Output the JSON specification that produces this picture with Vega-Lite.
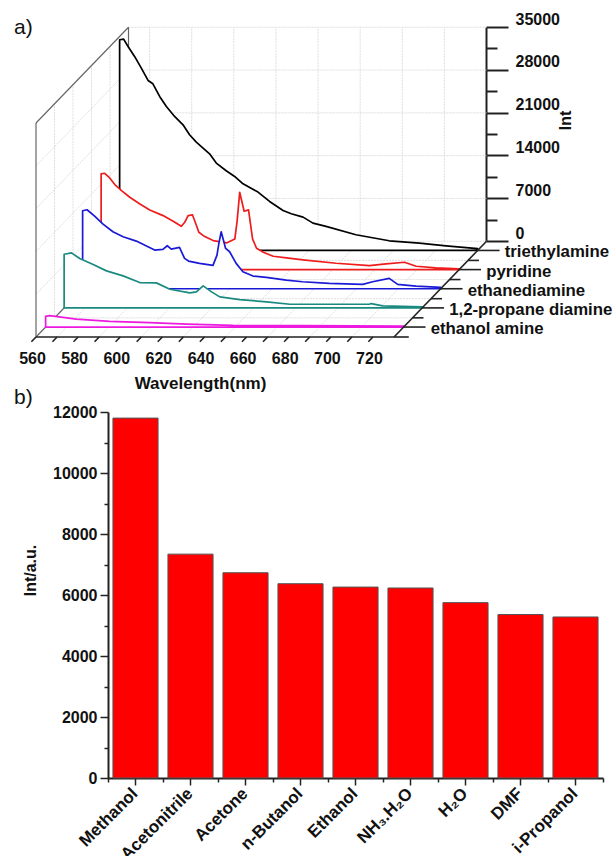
{"$schema":"https://vega.github.io/schema/vega-lite/v6.json","width":613,"height":856,"padding":0,"autosize":{"type":"none"},"background":"white","config":{"view":{"stroke":null},"axis":{"grid":false,"labelFont":"Liberation Sans","titleFont":"Liberation Sans","labelColor":"#111","titleColor":"#111"},"text":{"font":"Liberation Sans"}},
"datasets":{
"spectra":[
{"series":"triethylamine","w":560,"i":34457},{"series":"triethylamine","w":561.9,"i":34565},{"series":"triethylamine","w":564,"i":33366},{"series":"triethylamine","w":567.1,"i":31730},{"series":"triethylamine","w":570.3,"i":29822},{"series":"triethylamine","w":573.5,"i":27805},{"series":"triethylamine","w":575.8,"i":27260},{"series":"triethylamine","w":579,"i":25188},{"series":"triethylamine","w":582.2,"i":23553},{"series":"triethylamine","w":586.1,"i":21917},{"series":"triethylamine","w":590.1,"i":20554},{"series":"triethylamine","w":593.2,"i":18918},{"series":"triethylamine","w":596.4,"i":17719},{"series":"triethylamine","w":602.7,"i":15811},{"series":"triethylamine","w":605.9,"i":14284},{"series":"triethylamine","w":610.6,"i":13030},{"series":"triethylamine","w":614.6,"i":12103},{"series":"triethylamine","w":618.6,"i":10904},{"series":"triethylamine","w":625.7,"i":9541},{"series":"triethylamine","w":631.2,"i":8014},{"series":"triethylamine","w":637.6,"i":6542},{"series":"triethylamine","w":641.5,"i":5997},{"series":"triethylamine","w":647.1,"i":5452},{"series":"triethylamine","w":651.8,"i":4471},{"series":"triethylamine","w":658,"i":3925},{"series":"triethylamine","w":672.2,"i":2562},{"series":"triethylamine","w":688,"i":1581},{"series":"triethylamine","w":702.3,"i":1199},{"series":"triethylamine","w":715,"i":763},{"series":"triethylamine","w":730,"i":300},
{"series":"pyridine","w":560,"i":15647},{"series":"pyridine","w":561.7,"i":15756},{"series":"pyridine","w":563.8,"i":15102},{"series":"pyridine","w":566.5,"i":13903},{"series":"pyridine","w":569.7,"i":12921},{"series":"pyridine","w":573.6,"i":11831},{"series":"pyridine","w":578.4,"i":10740},{"series":"pyridine","w":583.1,"i":9759},{"series":"pyridine","w":589.4,"i":8832},{"series":"pyridine","w":594.2,"i":7905},{"series":"pyridine","w":598.1,"i":7088},{"series":"pyridine","w":599.7,"i":7742},{"series":"pyridine","w":601.3,"i":8832},{"series":"pyridine","w":603.4,"i":8941},{"series":"pyridine","w":605,"i":7469},{"series":"pyridine","w":606.4,"i":6106},{"series":"pyridine","w":609.2,"i":5397},{"series":"pyridine","w":613.2,"i":4743},{"series":"pyridine","w":619.5,"i":4362},{"series":"pyridine","w":623.5,"i":5016},{"series":"pyridine","w":624.6,"i":8014},{"series":"pyridine","w":625.8,"i":12649},{"series":"pyridine","w":627.9,"i":9541},{"series":"pyridine","w":630,"i":9759},{"series":"pyridine","w":631.9,"i":5016},{"series":"pyridine","w":633.8,"i":3489},{"series":"pyridine","w":637,"i":2835},{"series":"pyridine","w":641.7,"i":2181},{"series":"pyridine","w":648,"i":1908},{"series":"pyridine","w":655.8,"i":1581},{"series":"pyridine","w":671.6,"i":1036},{"series":"pyridine","w":687.4,"i":654},{"series":"pyridine","w":695.3,"i":927},{"series":"pyridine","w":704,"i":1199},{"series":"pyridine","w":709.6,"i":545},{"series":"pyridine","w":719,"i":273},{"series":"pyridine","w":730,"i":109},
{"series":"ethanediamine","w":560,"i":12758},{"series":"ethanediamine","w":562.1,"i":12921},{"series":"ethanediamine","w":565.7,"i":11885},{"series":"ethanediamine","w":569.7,"i":10577},{"series":"ethanediamine","w":574.4,"i":9323},{"series":"ethanediamine","w":579.2,"i":8505},{"series":"ethanediamine","w":585.5,"i":7796},{"series":"ethanediamine","w":590.3,"i":6979},{"series":"ethanediamine","w":594.2,"i":6324},{"series":"ethanediamine","w":598.1,"i":6433},{"series":"ethanediamine","w":600.2,"i":7033},{"series":"ethanediamine","w":602.1,"i":6488},{"series":"ethanediamine","w":606,"i":6760},{"series":"ethanediamine","w":608.4,"i":4961},{"series":"ethanediamine","w":610.3,"i":4525},{"series":"ethanediamine","w":615.5,"i":4144},{"series":"ethanediamine","w":621.9,"i":3816},{"series":"ethanediamine","w":623.8,"i":5506},{"series":"ethanediamine","w":624.7,"i":7415},{"series":"ethanediamine","w":625.8,"i":9323},{"series":"ethanediamine","w":627.9,"i":6597},{"series":"ethanediamine","w":629.8,"i":6052},{"series":"ethanediamine","w":632.9,"i":4144},{"series":"ethanediamine","w":636.1,"i":2781},{"series":"ethanediamine","w":640.9,"i":2072},{"series":"ethanediamine","w":647.2,"i":1854},{"series":"ethanediamine","w":656.7,"i":1418},{"series":"ethanediamine","w":664.4,"i":1145},{"series":"ethanediamine","w":677.1,"i":872},{"series":"ethanediamine","w":693,"i":709},{"series":"ethanediamine","w":697.7,"i":1145},{"series":"ethanediamine","w":705.6,"i":1690},{"series":"ethanediamine","w":709.6,"i":709},{"series":"ethanediamine","w":718.3,"i":436},{"series":"ethanediamine","w":730,"i":218},
{"series":"1,2-propane diamine","w":560,"i":8778},{"series":"1,2-propane diamine","w":563.5,"i":8996},{"series":"1,2-propane diamine","w":567.4,"i":8069},{"series":"1,2-propane diamine","w":573.8,"i":7088},{"series":"1,2-propane diamine","w":580.1,"i":6052},{"series":"1,2-propane diamine","w":588,"i":5234},{"series":"1,2-propane diamine","w":595.9,"i":4144},{"series":"1,2-propane diamine","w":603.8,"i":4089},{"series":"1,2-propane diamine","w":610.2,"i":3053},{"series":"1,2-propane diamine","w":619.7,"i":2453},{"series":"1,2-propane diamine","w":622.8,"i":2617},{"series":"1,2-propane diamine","w":626,"i":3598},{"series":"1,2-propane diamine","w":630,"i":2617},{"series":"1,2-propane diamine","w":633.9,"i":1799},{"series":"1,2-propane diamine","w":643.4,"i":1363},{"series":"1,2-propane diamine","w":656.1,"i":981},{"series":"1,2-propane diamine","w":667.2,"i":600},{"series":"1,2-propane diamine","w":689.2,"i":600},{"series":"1,2-propane diamine","w":705,"i":600},{"series":"1,2-propane diamine","w":705.8,"i":709},{"series":"1,2-propane diamine","w":711.3,"i":327},{"series":"1,2-propane diamine","w":730,"i":180},
{"series":"ethanol amine","w":560,"i":1745},{"series":"ethanol amine","w":561.9,"i":1854},{"series":"ethanol amine","w":574.6,"i":1308},{"series":"ethanol amine","w":590.4,"i":927},{"series":"ethanol amine","w":609.4,"i":709},{"series":"ethanol amine","w":626.8,"i":491},{"series":"ethanol amine","w":648.9,"i":273},{"series":"ethanol amine","w":682,"i":218},{"series":"ethanol amine","w":730,"i":150}
],
"grid":[
{"w1":570,"z1":5,"i1":0,"w2":570,"z2":5,"i2":35000},{"w1":590,"z1":5,"i1":0,"w2":590,"z2":5,"i2":35000},{"w1":610,"z1":5,"i1":0,"w2":610,"z2":5,"i2":35000},{"w1":630,"z1":5,"i1":0,"w2":630,"z2":5,"i2":35000},{"w1":650,"z1":5,"i1":0,"w2":650,"z2":5,"i2":35000},{"w1":670,"z1":5,"i1":0,"w2":670,"z2":5,"i2":35000},{"w1":690,"z1":5,"i1":0,"w2":690,"z2":5,"i2":35000},{"w1":710,"z1":5,"i1":0,"w2":710,"z2":5,"i2":35000},
{"w1":560,"z1":5,"i1":35000,"w2":730,"z2":5,"i2":35000},{"w1":560,"z1":5,"i1":28000,"w2":730,"z2":5,"i2":28000},{"w1":560,"z1":5,"i1":21000,"w2":730,"z2":5,"i2":21000},{"w1":560,"z1":5,"i1":14000,"w2":730,"z2":5,"i2":14000},{"w1":560,"z1":5,"i1":7000,"w2":730,"z2":5,"i2":7000},{"w1":560,"z1":5,"i1":0,"w2":730,"z2":5,"i2":0},
{"w1":560,"z1":0,"i1":7000,"w2":560,"z2":5,"i2":7000},{"w1":560,"z1":0,"i1":14000,"w2":560,"z2":5,"i2":14000},{"w1":560,"z1":0,"i1":21000,"w2":560,"z2":5,"i2":21000},{"w1":560,"z1":0,"i1":28000,"w2":560,"z2":5,"i2":28000},
{"w1":560,"z1":1,"i1":0,"w2":560,"z2":1,"i2":35000},{"w1":560,"z1":2,"i1":0,"w2":560,"z2":2,"i2":35000},{"w1":560,"z1":3,"i1":0,"w2":560,"z2":3,"i2":35000},{"w1":560,"z1":4,"i1":0,"w2":560,"z2":4,"i2":35000},
{"w1":570,"z1":0,"i1":0,"w2":570,"z2":5,"i2":0},{"w1":590,"z1":0,"i1":0,"w2":590,"z2":5,"i2":0},{"w1":610,"z1":0,"i1":0,"w2":610,"z2":5,"i2":0},{"w1":630,"z1":0,"i1":0,"w2":630,"z2":5,"i2":0},{"w1":650,"z1":0,"i1":0,"w2":650,"z2":5,"i2":0},{"w1":670,"z1":0,"i1":0,"w2":670,"z2":5,"i2":0},{"w1":690,"z1":0,"i1":0,"w2":690,"z2":5,"i2":0},{"w1":710,"z1":0,"i1":0,"w2":710,"z2":5,"i2":0},
{"w1":560,"z1":1,"i1":0,"w2":730,"z2":1,"i2":0},{"w1":560,"z1":2,"i1":0,"w2":730,"z2":2,"i2":0},{"w1":560,"z1":3,"i1":0,"w2":730,"z2":3,"i2":0},{"w1":560,"z1":4,"i1":0,"w2":730,"z2":4,"i2":0}
],
"walls":[
{"w1":560,"z1":0,"i1":0,"w2":560,"z2":0,"i2":35000},{"w1":560,"z1":0,"i1":35000,"w2":560,"z2":5,"i2":35000},{"w1":560,"z1":5,"i1":0,"w2":560,"z2":5,"i2":35000},{"w1":560,"z1":0,"i1":0,"w2":560,"z2":5,"i2":0}
],
"front":[
{"w1":560,"z1":0,"i1":0,"w2":730,"z2":0,"i2":0},{"w1":730,"z1":0,"i1":0,"w2":730,"z2":5,"i2":0},
{"w1":560,"z1":0,"i1":0,"w2":560,"z2":-0.25,"i2":0},{"w1":570,"z1":0,"i1":0,"w2":570,"z2":-0.25,"i2":0},{"w1":580,"z1":0,"i1":0,"w2":580,"z2":-0.25,"i2":0},{"w1":590,"z1":0,"i1":0,"w2":590,"z2":-0.25,"i2":0},{"w1":600,"z1":0,"i1":0,"w2":600,"z2":-0.25,"i2":0},{"w1":610,"z1":0,"i1":0,"w2":610,"z2":-0.25,"i2":0},{"w1":620,"z1":0,"i1":0,"w2":620,"z2":-0.25,"i2":0},{"w1":630,"z1":0,"i1":0,"w2":630,"z2":-0.25,"i2":0},{"w1":640,"z1":0,"i1":0,"w2":640,"z2":-0.25,"i2":0},{"w1":650,"z1":0,"i1":0,"w2":650,"z2":-0.25,"i2":0},{"w1":660,"z1":0,"i1":0,"w2":660,"z2":-0.25,"i2":0},{"w1":670,"z1":0,"i1":0,"w2":670,"z2":-0.25,"i2":0},{"w1":680,"z1":0,"i1":0,"w2":680,"z2":-0.25,"i2":0},{"w1":690,"z1":0,"i1":0,"w2":690,"z2":-0.25,"i2":0},{"w1":700,"z1":0,"i1":0,"w2":700,"z2":-0.25,"i2":0},{"w1":710,"z1":0,"i1":0,"w2":710,"z2":-0.25,"i2":0},{"w1":720,"z1":0,"i1":0,"w2":720,"z2":-0.25,"i2":0},
{"w1":730,"z1":0,"i1":0,"w2":737,"z2":0,"i2":0},{"w1":730,"z1":1,"i1":0,"w2":735.2,"z2":1,"i2":0},{"w1":730,"z1":2,"i1":0,"w2":735.2,"z2":2,"i2":0},{"w1":730,"z1":3,"i1":0,"w2":735.2,"z2":3,"i2":0},{"w1":730,"z1":4,"i1":0,"w2":735.2,"z2":4,"i2":0},
{"w1":730,"z1":0.52,"i1":0,"w2":740.4,"z2":0.52,"i2":0},{"w1":730,"z1":1.52,"i1":0,"w2":740.4,"z2":1.52,"i2":0},{"w1":730,"z1":2.52,"i1":0,"w2":740.4,"z2":2.52,"i2":0},{"w1":730,"z1":3.52,"i1":0,"w2":740.4,"z2":3.52,"i2":0},{"w1":730,"z1":4.52,"i1":0,"w2":740.4,"z2":4.52,"i2":0}
],
"seriesLabels":[{"label":"ethanol amine","z":0.52},{"label":"1,2-propane diamine","z":1.52},{"label":"ethanediamine","z":2.52},{"label":"pyridine","z":3.52},{"label":"triethylamine","z":4.52}],
"panels":[{"label":"a)","xp":549.6,"yp":50500},{"label":"b)","xp":549.6,"yp":-9900}],
"bars":[{"solvent":"Methanol","int":11800},{"solvent":"Acetonitrile","int":7340},{"solvent":"Acetone","int":6730},{"solvent":"n-Butanol","int":6370},{"solvent":"Ethanol","int":6260},{"solvent":"NH₃.H₂O","int":6230},{"solvent":"H₂O","int":5750},{"solvent":"DMF","int":5360},{"solvent":"i-Propanol","int":5280}]
},
"layer":[
{"encoding":{"x":{"field":"xp","type":"quantitative","scale":{"domain":[560,833.5],"range":[36,612],"zero":false,"nice":false},"axis":null},"y":{"field":"yp","type":"quantitative","scale":{"domain":[0,50703],"range":[337,27],"zero":false,"nice":false},"axis":null}},
"layer":[
{"data":{"name":"grid"},"transform":[{"calculate":"datum.w1+8.785*datum.z1","as":"xp"},{"calculate":"datum.i1+3132*datum.z1","as":"yp"},{"calculate":"datum.w2+8.785*datum.z2","as":"xp2"},{"calculate":"datum.i2+3132*datum.z2","as":"yp2"}],"mark":{"type":"rule","stroke":"#d6d6d6","strokeWidth":0.8,"strokeDash":[2,1]},"encoding":{"x2":{"field":"xp2"},"y2":{"field":"yp2"}}},
{"data":{"name":"walls"},"transform":[{"calculate":"datum.w1+8.785*datum.z1","as":"xp"},{"calculate":"datum.i1+3132*datum.z1","as":"yp"},{"calculate":"datum.w2+8.785*datum.z2","as":"xp2"},{"calculate":"datum.i2+3132*datum.z2","as":"yp2"}],"mark":{"type":"rule","stroke":"#666","strokeWidth":1.2},"encoding":{"x2":{"field":"xp2"},"y2":{"field":"yp2"}}},
{"data":{"name":"spectra"},"transform":[{"calculate":"indexof(['ethanol amine','1,2-propane diamine','ethanediamine','pyridine','triethylamine'],datum.series)+0.52","as":"z"},{"calculate":"datum.w+8.785*datum.z","as":"xp"},{"calculate":"datum.i+3132*datum.z","as":"yp"},{"calculate":"3132*datum.z","as":"base"}],"mark":{"type":"area","fill":"white","strokeWidth":1.7,"strokeJoin":"round"},"encoding":{"y2":{"field":"base"},"stroke":{"field":"series","type":"nominal","legend":null,"scale":{"domain":["triethylamine","pyridine","ethanediamine","1,2-propane diamine","ethanol amine"],"range":["#000000","#ee1c1c","#1a1ad6","#1a8a80","#ee19e0"]}}}},
{"data":{"name":"front"},"transform":[{"calculate":"datum.w1+8.785*datum.z1","as":"xp"},{"calculate":"datum.i1+3132*datum.z1","as":"yp"},{"calculate":"datum.w2+8.785*datum.z2","as":"xp2"},{"calculate":"datum.i2+3132*datum.z2","as":"yp2"}],"mark":{"type":"rule","stroke":"#222","strokeWidth":1.6},"encoding":{"x2":{"field":"xp2"},"y2":{"field":"yp2"}}},
{"data":{"name":"seriesLabels"},"transform":[{"calculate":"730+8.785*datum.z","as":"xp"},{"calculate":"3132*datum.z","as":"yp"}],"mark":{"type":"text","align":"left","baseline":"middle","xOffset":27,"yOffset":2,"fontSize":16.8,"fontWeight":"bold","fill":"#111"},"encoding":{"text":{"field":"label"}}},
{"data":{"name":"panels"},"mark":{"type":"text","align":"left","baseline":"middle","xOffset":0,"fontSize":21,"fill":"#111"},"encoding":{"text":{"field":"label"}}}
]},
{"data":{"values":[{"i":0},{"i":35000}]},"mark":{"type":"point","opacity":0},"encoding":{"y":{"field":"i","type":"quantitative","scale":{"domain":[0,35000],"range":[241,27],"nice":false},"axis":{"orient":"right","offset":-127,"values":[0,3500,7000,10500,14000,17500,21000,24500,28000,31500,35000],"format":"d","labelExpr":"datum.value % 7000 === 0 ? datum.label : ''","tickSize":{"condition":{"test":"datum.value % 7000 === 0","value":22},"value":11},"tickColor":"#222","tickWidth":2,"domainColor":"#222","domainWidth":2,"labelFontSize":16,"labelFontWeight":"bold","labelOffset":-8,"labelPadding":7,"title":"Int","titleFontSize":16,"titleFontWeight":"bold","titleAngle":270,"titleX":79,"titleY":120,"titleBaseline":"middle"}}}},
{"data":{"values":[{"w":560},{"w":730}]},"mark":{"type":"point","opacity":0},"encoding":{"x":{"field":"w","type":"quantitative","scale":{"domain":[560,730],"range":[36,394],"nice":false,"zero":false},"axis":{"orient":"bottom","offset":-519,"values":[560,580,600,620,640,660,680,700,720],"format":"d","ticks":false,"domain":false,"labelFlush":false,"labelFontSize":16,"labelFontWeight":"bold","labelOffset":-4,"labelPadding":13,"title":"Wavelength(nm)","titleFontSize":17,"titleFontWeight":"bold","titleX":200,"titleY":46,"titleBaseline":"middle"}}}},
{"data":{"name":"bars"},"mark":{"type":"bar","fill":"#ff0000","stroke":"#555","strokeWidth":1},"encoding":{"x":{"field":"solvent","type":"nominal","sort":null,"scale":{"range":[108,603],"paddingInner":0.18,"paddingOuter":0.09},"axis":{"orient":"bottom","offset":-78,"labelAngle":-45,"labelFontSize":17,"labelFontWeight":"bold","labelPadding":0,"labelOffset":-6,"tickSize":7,"tickWidth":1.5,"tickColor":"#222","domainColor":"#222","domainWidth":2,"title":null,"labelOverlap":false,"labelLimit":0}},"y":{"field":"int","type":"quantitative","scale":{"domain":[0,12000],"range":[778,412],"nice":false},"axis":{"orient":"left","offset":-108,"values":[0,1000,2000,3000,4000,5000,6000,7000,8000,9000,10000,11000,12000],"format":"d","labelExpr":"datum.value % 2000 === 0 ? datum.label : ''","tickSize":{"condition":{"test":"datum.value % 2000 === 0","value":8},"value":4},"tickColor":"#222","tickWidth":1.5,"domainColor":"#222","domainWidth":2,"labelFontSize":16,"labelFontWeight":"bold","labelPadding":3,"title":"Int/a.u.","titleFontSize":16,"titleFontWeight":"bold","titleAngle":270,"titleX":-78,"titleY":570,"titleBaseline":"middle"}}}},
{"data":{"values":[{"slot":0},{"slot":9}]},"mark":{"type":"point","opacity":0},"encoding":{"x":{"field":"slot","type":"quantitative","scale":{"domain":[0,9],"range":[108,603],"nice":false,"zero":false},"axis":{"orient":"bottom","offset":-78,"values":[0,1,2,3,4,5,6,7,8,9],"labels":false,"domain":false,"tickSize":4,"tickWidth":1.5,"tickColor":"#222","title":null}}}}
],
"resolve":{"scale":{"x":"independent","y":"independent"},"axis":{"x":"independent","y":"independent"}}
}
